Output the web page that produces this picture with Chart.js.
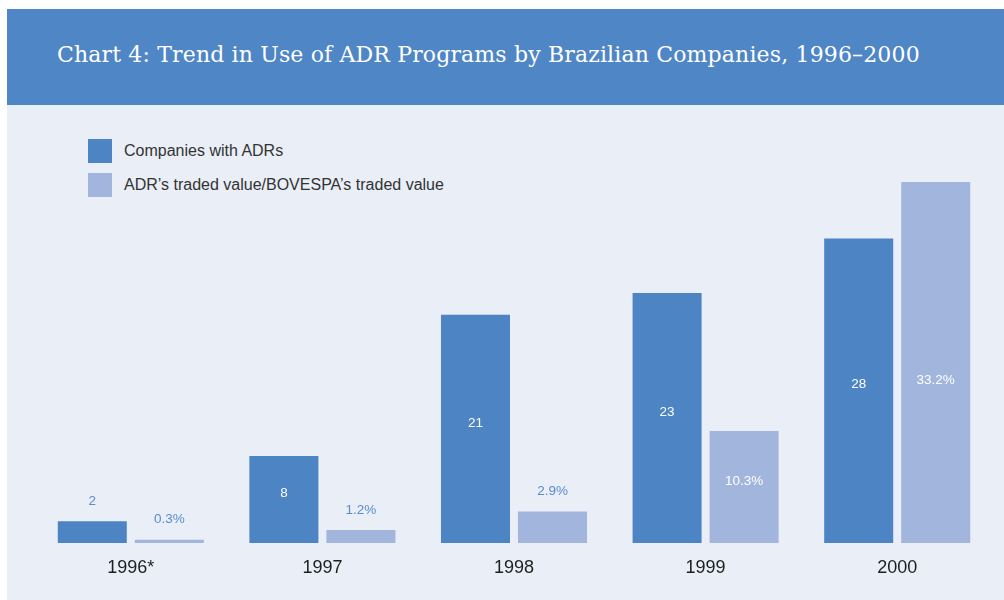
<!DOCTYPE html>
<html>
<head>
<meta charset="utf-8">
<script src="https://cdn.jsdelivr.net/npm/chart.js@4/dist/chart.umd.min.js"></script>
<style>
  html, body { margin: 0; padding: 0; background: #ffffff; }
  #page { position: relative; width: 1004px; height: 600px; overflow: hidden; }
  #panel { position: absolute; left: 7px; top: 105px; right: 0; bottom: 0; background: #e9eef7; }
  #band { position: absolute; left: 7px; top: 9px; right: 0; height: 96px; background: #4f86c6; }
  #title {
    position: absolute; left: 57px; top: 42px; color: #ffffff;
    font-family: "DejaVu Serif", serif; font-size: 22px; letter-spacing: 0.15px; white-space: nowrap;
  }
  #legend { position: absolute; left: 88px; top: 139px; font-family: "Liberation Sans", Arial, sans-serif; font-size: 16px; color: #333333; }
  .item { position: relative; height: 24px; margin-bottom: 10px; }
  .item span.box { position: absolute; left: 0; top: 0; width: 24px; height: 24px; }
  .item span.txt { position: absolute; left: 36px; top: 3px; white-space: nowrap; }
  #chartWrap { position: absolute; left: 0; top: 105px; width: 1004px; height: 495px; }
</style>
</head>
<body>
<div id="page">
  <div id="band"></div>
  <div id="panel"></div>
  <div id="title">Chart 4: Trend in Use of ADR Programs by Brazilian Companies, 1996–2000</div>
  <div id="legend"></div>
  <div id="chartWrap"><canvas id="chart" width="1004" height="495"></canvas></div>
</div>

<script>
// =========================
// DATA
// =========================

const years = ["1996*", "1997", "1998", "1999", "2000"];

const companiesWithAdrs = [2, 8, 21, 23, 28];
const adrShareOfBovespa = [0.3, 1.2, 2.9, 10.3, 33.2];

const seriesNames = [
    "Companies with ADRs",
    "ADR\u2019s traded value/BOVESPA\u2019s traded value"
];

const darkBlue = "#4c84c4";
const lightBlue = "#a2b5dc";

// =========================
// LEGEND (html)
// =========================

const legend = document.getElementById("legend");

[darkBlue, lightBlue].forEach((color, i) => {
    legend.innerHTML += `
    <div class="item">
        <span class="box" style="background:${color}"></span>
        <span class="txt">${seriesNames[i]}</span>
    </div>`;
});

// =========================
// VALUE LABELS
// =========================

const valueLabels = {
    id: "valueLabels",
    afterDatasetsDraw(chart) {
        const ctx = chart.ctx;
        ctx.save();
        ctx.font = "13.5px 'Liberation Sans', Arial, sans-serif";
        ctx.textAlign = "center";
        ctx.textBaseline = "middle";

        chart.data.datasets.forEach((ds, di) => {
            const meta = chart.getDatasetMeta(di);
            meta.data.forEach((bar, i) => {
                const text = di === 0 ? String(ds.data[i]) : ds.data[i] + "%";
                const h = bar.base - bar.y;
                let y;
                if (h < 40) {
                    ctx.fillStyle = "#5a8dcc";
                    y = bar.y - 20;
                } else {
                    ctx.fillStyle = "#ffffff";
                    y = Math.max((bar.y + bar.base) / 2 - 6, chart.chartArea.top + 272);
                }
                ctx.fillText(text, bar.x, y);
            });
        });

        ctx.restore();
    }
};

// =========================
// CHART
// =========================

new Chart(document.getElementById("chart"), {
    type: "bar",
    data: {
        labels: years,
        datasets: [
            {
                label: seriesNames[0],
                data: companiesWithAdrs,
                backgroundColor: darkBlue,
                categoryPercentage: 0.804,
                barPercentage: 0.896
            },
            {
                label: seriesNames[1],
                data: adrShareOfBovespa,
                backgroundColor: lightBlue,
                categoryPercentage: 0.804,
                barPercentage: 0.896
            }
        ]
    },
    options: {
        responsive: false,
        animation: false,
        layout: {
            padding: { left: 35, right: 11, top: 3, bottom: 0 }
        },
        plugins: {
            legend: { display: false },
            tooltip: { enabled: false }
        },
        scales: {
            x: {
                grid: { display: false, drawTicks: false },
                border: { display: false },
                ticks: {
                    color: "#1e1e1e",
                    padding: 14,
                    font: { family: "'Liberation Sans', Arial, sans-serif", size: 18 }
                },
                afterFit(scale) {
                    scale.height = 57;
                }
            },
            y: {
                display: false,
                min: 0,
                max: 40
            }
        }
    },
    plugins: [valueLabels]
});
</script>
</body>
</html>
